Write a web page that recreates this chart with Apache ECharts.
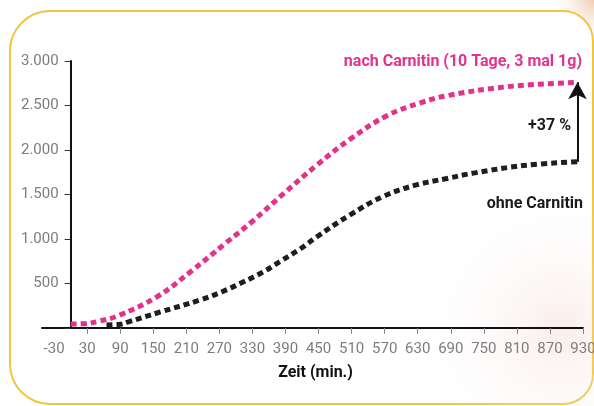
<!DOCTYPE html>
<html>
<head>
<meta charset="utf-8">
<script src="https://cdn.jsdelivr.net/npm/echarts@6/dist/echarts.min.js"></script>
<style>
  html, body { margin: 0; padding: 0; background: #ffffff; }
  #chart { width: 594px; height: 406px; }
</style>
</head>
<body>
<div id="chart"></div>
<script>
// Time axis tick labels (minutes)
const timeTicks = [-30, 30, 90, 150, 210, 270, 330, 390, 450, 510, 570, 630, 690, 750, 810, 870, 930];

// After carnitine (10 days, 3 x 1 g)
const mitTime  = [0, 25, 50, 85, 157, 220, 281, 329, 387, 447, 508, 574, 635, 683, 792, 920];
const mitValue = [45, 48, 75, 135, 352, 644, 952, 1194, 1513, 1831, 2125, 2385, 2530, 2610, 2711, 2760];

// Without carnitine
const ohneTime  = [65, 90, 105, 163, 235, 275, 311, 348, 381, 417, 447, 508, 568, 629, 683, 731, 822, 920];
const ohneValue = [35, 42, 70, 180, 315, 408, 510, 625, 750, 890, 1025, 1275, 1480, 1610, 1680, 1740, 1825, 1869];

const zip = (xs, ys) => xs.map((x, i) => [x, ys[i]]);
const mitData = zip(mitTime, mitValue);
const ohneData = zip(ohneTime, ohneValue);
const lastMit = mitTime.length - 1;
const lastOhne = ohneTime.length - 1;

function formatThousands(v) {
  if (v === 0) return '';
  if (v < 1000) return String(v);
  const rest = String(v % 1000).padStart(3, '0');
  return Math.floor(v / 1000) + '.' + rest;
}

// plot area
const gridLeft = 42, gridRight = 11;
const xMin = -52, xMax = 930;
const plotWidth = 594 - gridLeft - gridRight;
// shift the value axis so it stands at t = 0
const yAxisOffset = -((0 - xMin) / (xMax - xMin)) * plotWidth;

const chart = echarts.init(document.getElementById('chart'), null, { renderer: 'canvas' });

const pink = '#e2338c';
const dark = '#1e1e1e';

chart.setOption({
  animation: false,
  backgroundColor: '#ffffff',
  grid: { left: gridLeft, right: gridRight, top: 61, bottom: 78, outerBoundsMode: 'none', containLabel: false },
  xAxis: {
    type: 'value',
    min: xMin,
    max: xMax,
    name: 'Zeit (min.)',
    nameLocation: 'middle',
    nameGap: 37,
    nameTextStyle: { fontFamily: 'Roboto', fontWeight: 'bold', fontSize: 16, color: '#111', padding: [0, 0, 0, 6] },
    axisLine: { onZero: false, lineStyle: { color: '#111', width: 2 } },
    axisTick: { show: true, customValues: timeTicks.filter(t => t > 0), length: 6, lineStyle: { color: '#888', width: 1 } },
    axisLabel: { customValues: timeTicks, margin: 14, fontFamily: 'Roboto', fontSize: 15, color: '#7d7d7d' },
    splitLine: { show: false }
  },
  yAxis: {
    type: 'value',
    min: 0,
    max: 3000,
    interval: 500,
    offset: yAxisOffset,
    axisLine: { show: true, onZero: false, lineStyle: { color: '#111', width: 2 } },
    axisTick: { show: true, length: 6, lineStyle: { color: '#333', width: 1 } },
    axisLabel: { margin: 12, fontFamily: 'Roboto', fontSize: 15, color: '#7d7d7d', formatter: formatThousands },
    splitLine: { show: false }
  },
  series: [
    {
      name: 'ohne Carnitin',
      type: 'line',
      data: ohneData,
      smooth: 0.4,
      showSymbol: false,
      lineStyle: { color: dark, width: 5, type: [6, 4], cap: 'butt' },
      markLine: {
        silent: true,
        symbol: ['none', 'arrow'],
        symbolSize: [14, 17],
        label: { show: false },
        lineStyle: { color: '#111', width: 2, type: 'solid' },
        data: [[
          { coord: [ohneTime[lastOhne], ohneValue[lastOhne]] },
          { coord: [mitTime[lastMit], mitValue[lastMit]] }
        ]]
      }
    },
    {
      name: 'nach Carnitin',
      type: 'line',
      data: mitData,
      smooth: 0.4,
      showSymbol: false,
      lineStyle: { color: pink, width: 5, type: [6, 4], cap: 'butt' }
    }
  ],
  graphic: [
    // warm photo tones behind the card
    {
      type: 'rect', z: -20, silent: true,
      shape: { x: 480, y: 0, width: 114, height: 60 },
      style: { fill: new echarts.graphic.RadialGradient(1, 0, 0.8, [
        { offset: 0, color: 'rgba(238,205,180,1)' },
        { offset: 1, color: 'rgba(255,255,255,0)' }
      ]) }
    },
    // rounded card
    {
      type: 'rect', z: -15, silent: true,
      shape: { x: 10, y: 11, width: 583, height: 393, r: [40, 30, 30, 40] },
      style: { fill: '#ffffff', stroke: '#f0c540', lineWidth: 2 }
    },
    // faint haze in the lower right of the card
    {
      type: 'circle', z: -10, silent: true,
      shape: { cx: 560, cy: 330, r: 150 },
      style: { fill: new echarts.graphic.RadialGradient(0.5, 0.5, 0.5, [
        { offset: 0, color: 'rgba(238,205,195,0.35)' },
        { offset: 1, color: 'rgba(255,255,255,0)' }
      ]) }
    },
    {
      type: 'text', z: 10, silent: true,
      style: { x: 582, y: 62, text: 'nach Carnitin (10 Tage, 3 mal 1g)', align: 'right', verticalAlign: 'middle',
               fill: pink, font: 'bold 16px Roboto' }
    },
    {
      type: 'text', z: 10, silent: true,
      style: { x: 571, y: 126, text: '+37 %', align: 'right', verticalAlign: 'middle',
               fill: '#1a1a1a', font: 'bold 16px Roboto' }
    },
    {
      type: 'text', z: 10, silent: true,
      style: { x: 583, y: 204, text: 'ohne Carnitin', align: 'right', verticalAlign: 'middle',
               fill: '#1a1a1a', font: 'bold 16px Roboto' }
    }
  ]
});
</script>
</body>
</html>
